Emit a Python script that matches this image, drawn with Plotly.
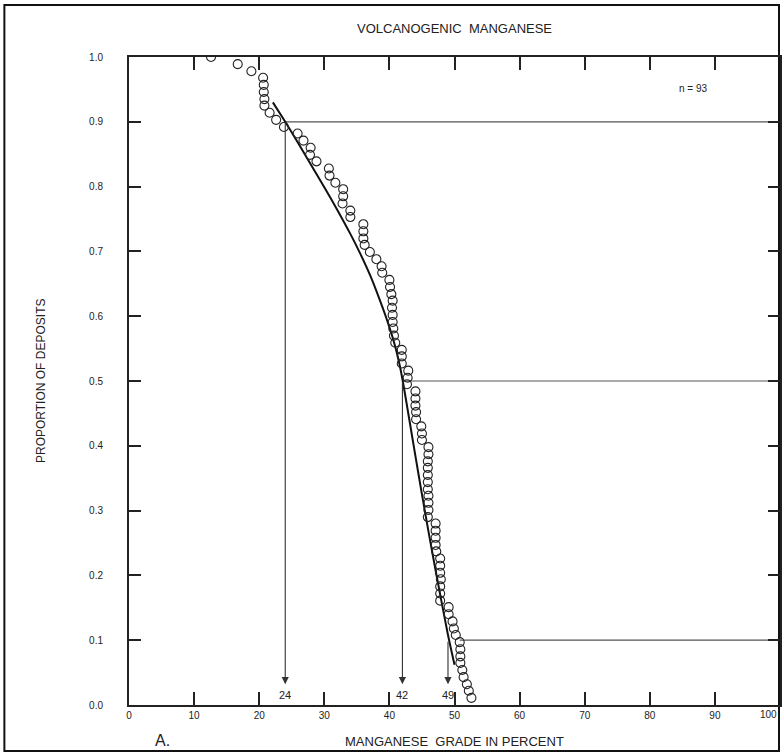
import plotly.graph_objects as go

# ---- data ----
grade = [12.6, 16.7, 18.8, 20.6, 20.7, 20.7, 20.8, 20.8, 21.6, 22.6,
         23.8, 25.9, 26.8, 27.9, 27.8, 28.8, 30.7, 30.8, 31.7, 32.9,
         32.9, 32.8, 34.0, 34.0, 36.0, 36.0, 36.0, 36.2, 37.0, 38.0,
         38.8, 38.9, 40.0, 40.1, 40.3, 40.5, 40.4, 40.5, 40.5, 40.6,
         40.7, 40.9, 41.9, 41.9, 41.9, 42.9, 42.8, 42.7, 44.0, 44.0,
         44.0, 44.1, 44.1, 44.9, 45.0, 45.0, 46.0, 46.0, 45.9, 45.9,
         45.9, 45.9, 45.9, 46.0, 46.0, 46.0, 45.9, 47.1, 47.1, 47.1,
         47.1, 47.2, 47.8, 47.8, 47.8, 47.9, 47.8, 47.8, 47.8, 49.1,
         49.1, 49.7, 49.9, 50.2, 50.8, 50.9, 50.9, 50.9, 51.2, 51.4,
         51.9, 52.2, 52.6]
proportion = [1.000, 0.989, 0.978, 0.968, 0.957, 0.946, 0.935, 0.925, 0.914, 0.903,
              0.892, 0.882, 0.871, 0.860, 0.849, 0.839, 0.828, 0.817, 0.806, 0.796,
              0.785, 0.774, 0.763, 0.753, 0.742, 0.731, 0.720, 0.710, 0.699, 0.688,
              0.677, 0.667, 0.656, 0.645, 0.634, 0.624, 0.613, 0.602, 0.591, 0.581,
              0.570, 0.559, 0.548, 0.538, 0.527, 0.516, 0.505, 0.495, 0.484, 0.473,
              0.462, 0.452, 0.441, 0.430, 0.419, 0.409, 0.398, 0.387, 0.376, 0.366,
              0.355, 0.344, 0.333, 0.323, 0.312, 0.301, 0.290, 0.280, 0.269, 0.258,
              0.247, 0.237, 0.226, 0.215, 0.204, 0.194, 0.183, 0.172, 0.161, 0.151,
              0.140, 0.129, 0.118, 0.108, 0.097, 0.086, 0.075, 0.065, 0.054, 0.043,
              0.032, 0.022, 0.011]

curve_x = [22.1, 24.0, 26.0, 28.0, 30.0, 32.0, 34.0, 35.5, 37.0, 38.3, 39.5, 40.5,
           41.3, 42.0, 43.0, 44.0, 45.0, 46.0, 47.0, 48.0, 49.0, 50.0]
curve_y = [0.930, 0.900, 0.867, 0.833, 0.799, 0.764, 0.727, 0.697, 0.664, 0.631, 0.598, 0.567,
           0.537, 0.503, 0.444, 0.384, 0.325, 0.268, 0.213, 0.160, 0.108, 0.062]

# percentiles: 90%, 50%, 10% of deposits
pct_grade = [24, 42, 49]
pct_prop = [0.9, 0.5, 0.1]
pct_hline_start = [24, 42, 50.8]
pct_labels = ["24", "42", "49"]

x_ticks = [0, 10, 20, 30, 40, 50, 60, 70, 80, 90, 100]
y_ticks = [0.0, 0.1, 0.2, 0.3, 0.4, 0.5, 0.6, 0.7, 0.8, 0.9, 1.0]

FONT = "Liberation Sans, Arial, Helvetica, sans-serif"
INK = "#222222"

fig = go.Figure()

# horizontal guide lines
for xs, yv in zip(pct_hline_start, pct_prop):
    fig.add_trace(go.Scatter(x=[xs, 100], y=[yv, yv], mode="lines",
                             line=dict(color="#555555", width=1.2),
                             hoverinfo="skip", showlegend=False))

# fitted curve
fig.add_trace(go.Scatter(x=curve_x, y=curve_y, mode="lines",
                         line=dict(color="#111111", width=2, shape="spline", smoothing=0.6),
                         showlegend=False))

# data points
fig.add_trace(go.Scatter(x=grade, y=proportion, mode="markers",
                         marker=dict(symbol="circle-open", size=9,
                                     color="#222222", line=dict(width=1.1)),
                         showlegend=False))

annotations = []
for gx, py, lab in zip(pct_grade, pct_prop, pct_labels):
    annotations.append(dict(x=gx, y=0.032, ax=gx, ay=py, xref="x", yref="y",
                            axref="x", ayref="y", text="", showarrow=True,
                            arrowhead=2, arrowsize=1.3, arrowwidth=1.1,
                            arrowcolor="#333333"))
    annotations.append(dict(x=gx, y=0.0, xref="x", yref="y", text=lab,
                            showarrow=False, yanchor="bottom", yshift=2,
                            font=dict(family=FONT, size=11, color=INK)))

annotations += [
    dict(x=100, y=0, xref="x", yref="y", text="100", showarrow=False,
         yanchor="top", yshift=-2, xanchor="right", xshift=-1,
         font=dict(family=FONT, size=10, color=INK)),
    dict(x=86.7, y=0.952, xref="x", yref="y", text="n = 93", showarrow=False,
         font=dict(family=FONT, size=10, color=INK)),
    dict(x=0.5, y=1.0, xref="paper", yref="paper", yanchor="bottom", yshift=19,
         text="VOLCANOGENIC  MANGANESE", showarrow=False,
         font=dict(family=FONT, size=13, color=INK)),
    dict(x=0.5, y=0, xref="paper", yref="paper", yanchor="top", yshift=-27,
         text="MANGANESE  GRADE IN PERCENT", showarrow=False,
         font=dict(family=FONT, size=13, color=INK)),
    dict(x=0.037, y=0, xref="paper", yref="paper", yanchor="top", yshift=-25,
         text="A.", showarrow=False,
         font=dict(family=FONT, size=16, color=INK)),
    dict(x=0, y=0.5, xref="paper", yref="paper", xanchor="center", xshift=-88,
         text="PROPORTION OF DEPOSITS", textangle=-90, showarrow=False,
         font=dict(family=FONT, size=12, color=INK)),
]

L, R, T, B = 129, 1, 57, 50
W, H = 783, 755
pw, ph = W - L - R, H - T - B

def px(xp):
    return (xp - L) / pw

def py_(yp):
    return (H - B - yp) / ph

shapes = [dict(type="rect", xref="paper", yref="paper",
               x0=px(4), x1=px(781), y0=py_(751), y1=py_(5),
               line=dict(color="#111111", width=2), layer="below")]

fig.update_layout(
    width=W, height=H,
    margin=dict(l=L, r=R, t=T, b=B),
    paper_bgcolor="white", plot_bgcolor="white",
    font=dict(family=FONT, color=INK),
    annotations=annotations, shapes=shapes,
    showlegend=False,
)
fig.update_xaxes(range=[0, 100], tickvals=x_ticks, ticktext=[str(v) for v in x_ticks],
                 ticks="inside", ticklen=13, tickwidth=1.5, tickcolor="#222",
                 showline=True, linecolor="#222", linewidth=2, mirror="ticks",
                 showgrid=False, zeroline=False,
                 tickfont=dict(family=FONT, size=10, color=INK))
fig.update_yaxes(range=[0, 1.0], tickvals=y_ticks, ticktext=[f"{v:.1f}" for v in y_ticks],
                 ticks="inside", ticklen=12, tickwidth=1.5, tickcolor="#222",
                 showline=True, linecolor="#222", linewidth=2, mirror="ticks",
                 showgrid=False, zeroline=False, ticklabelstandoff=22,
                 tickfont=dict(family=FONT, size=10, color=INK))

fig.write_html("out.html")
